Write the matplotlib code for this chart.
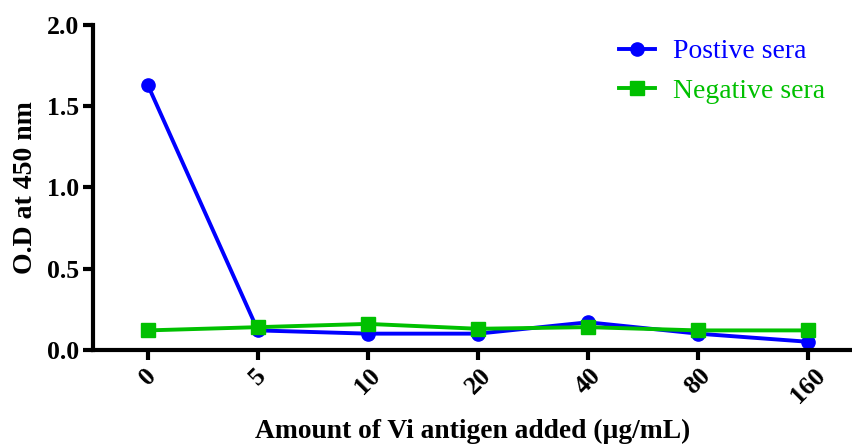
import numpy as np
import matplotlib.pyplot as plt

plt.rcParams['font.family'] = ['Liberation Serif', 'DejaVu Serif']

doses = ['0', '5', '10', '20', '40', '80', '160']
positive = [1.63, 0.12, 0.10, 0.10, 0.17, 0.10, 0.05]
negative = [0.12, 0.14, 0.16, 0.13, 0.14, 0.12, 0.12]

fig = plt.figure(figsize=(8.52, 4.48), dpi=100)
ax = fig.add_axes([0.109, 0.219, 0.891, 0.725])

x = np.arange(len(doses))
ax.plot(x, positive, color='#0000ff', lw=2.8, marker='o', ms=9.5, label='Postive sera')
ax.plot(x, negative, color='#00c000', lw=2.8, marker='s', ms=9.5, label='Negative sera')

ax.set_xlim(-0.5, 6.4)
ax.set_ylim(0, 2.0)
ax.set_yticks([0, 0.5, 1.0, 1.5, 2.0])
ax.set_yticklabels(['0.0', '0.5', '1.0', '1.5', '2.0'], fontsize=18.5, fontweight='bold')
ax.set_xticks(x)
ax.set_xticklabels(doses, fontsize=18.5, fontweight='bold', rotation=45, ha='center')

for s in ['top', 'right']:
    ax.spines[s].set_visible(False)
for s in ['left', 'bottom']:
    ax.spines[s].set_linewidth(3)
ax.tick_params(direction='out', length=7, width=3, pad=3)

ax.set_ylabel('O.D at 450 nm', fontsize=20, fontweight='bold', labelpad=6)
ax.set_xlabel('Amount of Vi antigen added (\u00b5g/mL)', fontsize=19.8, fontweight='bold', labelpad=8)

leg = ax.legend(loc='upper left', frameon=False, fontsize=20, handlelength=1.3,
                handletextpad=0.65, labelspacing=0.5, borderpad=0,
                bbox_to_anchor=(0.675, 1.0))
for t, c in zip(leg.get_texts(), ['#0000ff', '#00c000']):
    t.set_color(c)

fig.savefig('out.png', dpi=100)
